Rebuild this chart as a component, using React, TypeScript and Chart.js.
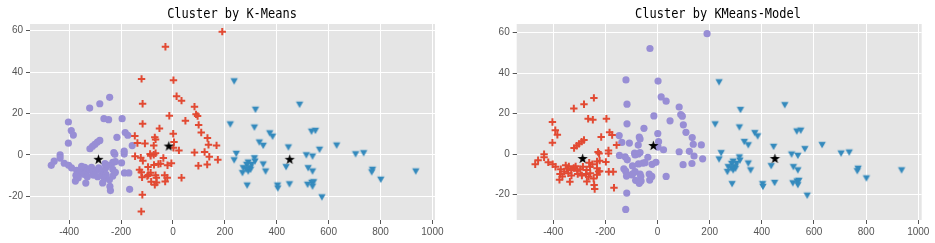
import React, { useEffect, useRef } from 'react';
import { Chart, registerables } from 'chart.js';
Chart.register(...registerables);

// ---- data (x, y) ----
const clusterA: [number, number][] = [
  [-244, 27.8], [-282, 24.7], [-321, 22.6], [-266, 17.5], [-248, 17.0], [-196, 17.5],
  [-403, 15.9], [-392, 11.8], [-384, 9.6], [-403, 5.7], [-216, 8.5], [-184, 10.8],
  [-174, 9.5], [-157, 4.5], [-320, 3.0], [-310, 4.2], [-301, 5.1], [-291, 6.2],
  [-282, 7.0], [-228, 1.1], [-224, 0.3], [-188, 1.8], [-188, 0.4], [-198, -3.8],
  [-435, 0.0], [-435, -1.5], [-458, -3.0], [-469, -5.0], [-419, -4.0], [-402, -5.0],
  [-391, -6.2], [-371, -7.4], [-358, -8.6], [-347, -7.2], [-340, -6.0], [-331, -7.8],
  [-321, -6.8], [-314, -6.0], [-308, -8.2], [-296, -7.4], [-286, -6.2], [-272, -7.8],
  [-259, -6.2], [-374, -9.8], [-342, -9.4], [-306, -9.8], [-274, -9.8], [-258, -9.4],
  [-365, -11.0], [-264, -11.2], [-232, -6.9], [-232, -3.6], [-262, -4.2], [-226, -8.6],
  [-232, -10.2], [-250, -5.0], [-222, -3.2], [-376, -12.6], [-336, -13.6], [-271, -13.5],
  [-243, -15.2], [-241, -17.2], [-167, -16.6], [-187, -8.7], [-170, -8.7], [-352, -5.5],
  [-330, -10.5], [-290, -10.5], [-245, -12.0], [-222, -8.4],
];

const clusterB: [number, number][] = [
  [190, 59.5], [-29, 52.2], [-121, 36.7], [2, 36.1], [14, 28.3], [33, 26.2],
  [-117, 24.7], [83, 23.3], [-14, 18.9], [89, 19.6], [95, 18.8], [48, 16.5],
  [-117, 15.0], [99, 14.5], [109, 10.8], [-52, 12.8], [-147, 9.2], [-70, 8.5],
  [-67, 7.5], [1, 10.2], [133, 8.2], [137, 4.9], [168, 4.6], [4, 6.2],
  [-108, 5.5], [-137, 5.8], [-74, 4.5], [2, 3.5], [23, 2.2], [83, 1.2],
  [122, 1.4], [140, -0.9], [173, -2.3], [98, -5.2], [132, -4.6], [33, -11.0],
  [-118, -19.2], [-122, -27.3], [-146, -0.6], [-124, -1.3], [-116, -2.8], [-129, -7.2],
  [-122, -8.4], [-119, -10.8], [-88, 0.5], [-74, 0.1], [-67, 0.8], [-86, -0.4],
  [-37, -1.5], [-21, -5.0], [-6, -4.0], [-56, -4.4], [-73, -4.8], [-96, -5.8],
  [-86, -8.6], [-99, -10.2], [-84, -12.9], [-67, -9.8], [-63, -13.3], [-70, -14.4],
  [-32, -9.8], [-30, -12.8], [-48, -4.2], [-95, -9.7], [-64, -11.0], [-22, -11.0],
];

const clusterC: [number, number][] = [
  [236, 35.5], [318, 21.8], [488, 24.2], [221, 14.7], [314, 13.2], [373, 10.4],
  [384, 8.8], [333, 6.0], [348, 4.4], [445, 3.6], [534, 11.2], [549, 11.6],
  [565, 2.5], [631, 4.5], [704, 0.3], [735, 0.8], [514, -0.2], [538, -0.8],
  [244, 0.5], [236, -2.6], [314, -1.6], [316, -3.2], [290, -3.7], [284, -4.8],
  [303, -4.8], [297, -6.4], [271, -6.4], [268, -8.8], [290, -8.0], [299, -7.2],
  [348, -4.6], [357, -8.0], [436, -5.9], [521, -6.4], [538, -8.0], [286, -14.8],
  [403, -14.8], [404, -16.2], [449, -14.2], [519, -14.4], [535, -13.5], [542, -13.2],
  [538, -15.3], [574, -20.5], [769, -7.2], [766, -8.4], [801, -12.0], [936, -8.0],
  [282, -7.0],
];

const centers: [number, number][] = [[-287, -2.1], [-16, 4.3], [450, -2.1]];

const xTicks = [-400, -200, 0, 200, 400, 600, 800, 1000];
const yTicks = [-20, 0, 20, 40, 60];

const titles = ['Cluster by K-Means', 'Cluster by KMeans-Model'];

// ---- styling / layout ----
const PURPLE = '#988ED5';
const RED = '#E24A33';
const BLUE = '#348ABD';
const TICK_FONT = "'Liberation Sans', Arial, sans-serif";

type PanelCfg = {
  title: string;
  left: number;
  width: number;
  plotLeft: number;
  plotRight: number;
  xMin: number; xMax: number; yMin: number; yMax: number;
  purple: [number, number][];
  red: [number, number][];
};

const panels: PanelCfg[] = [
  {
    title: titles[0], left: 0, width: 467, plotLeft: 30, plotRight: 435,
    xMin: -551, xMax: 1010, yMin: -31.4, yMax: 63.2,
    purple: clusterA, red: clusterB,
  },
  {
    title: titles[1], left: 467, width: 468, plotLeft: 516.7, plotRight: 921.7,
    xMin: -540, xMax: 1013, yMin: -32.5, yMax: 64.3,
    purple: clusterB, red: clusterA,
  },
];

function makeStar(): HTMLCanvasElement {
  const c = document.createElement('canvas');
  c.width = 13; c.height = 13;
  const ctx = c.getContext('2d')!;
  const cx = 6.5, cy = 6.8, R = 5.4, r = 2.1;
  ctx.beginPath();
  for (let i = 0; i < 10; i++) {
    const a = -Math.PI / 2 + (i * Math.PI) / 5;
    const rad = i % 2 === 0 ? R : r;
    const px = cx + Math.cos(a) * rad;
    const py = cy + Math.sin(a) * rad;
    if (i === 0) ctx.moveTo(px, py); else ctx.lineTo(px, py);
  }
  ctx.closePath();
  ctx.fillStyle = '#000';
  ctx.fill();
  return c;
}

function makeTriangle(): HTMLCanvasElement {
  const c = document.createElement('canvas');
  c.width = 10; c.height = 10;
  const ctx = c.getContext('2d')!;
  ctx.beginPath();
  ctx.moveTo(1.3, 1.7);
  ctx.lineTo(8.7, 1.7);
  ctx.lineTo(5, 8.3);
  ctx.closePath();
  ctx.fillStyle = BLUE;
  ctx.fill();
  return c;
}

const bgPlugin = {
  id: 'plotBg',
  beforeDraw(chart: any) {
    const { ctx, chartArea } = chart;
    if (!chartArea) return;
    ctx.save();
    ctx.fillStyle = '#E5E5E5';
    ctx.fillRect(chartArea.left, chartArea.top, chartArea.right - chartArea.left, chartArea.bottom - chartArea.top);
    ctx.restore();
  },
};

const toPts = (arr: [number, number][]) => arr.map(([x, y]) => ({ x, y }));

function Panel({ cfg }: { cfg: PanelCfg }) {
  const ref = useRef<HTMLCanvasElement>(null);
  useEffect(() => {
    const star = makeStar();
    const tri = makeTriangle();
    const rightPad = cfg.width - (cfg.plotRight - cfg.left);
    const yAxisW = cfg.plotLeft - cfg.left;
    const chart = new Chart(ref.current!, {
      type: 'scatter',
      data: {
        datasets: [
          {
            data: toPts(centers), pointStyle: star as any, pointRadius: 6, order: 0,
            backgroundColor: '#000', borderWidth: 0,
          },
          {
            data: toPts(clusterC), pointStyle: tri as any, pointRadius: 4, order: 1,
            backgroundColor: BLUE, borderWidth: 0,
          },
          {
            data: toPts(cfg.red), pointStyle: 'cross', pointRadius: 3.7, order: 2,
            borderColor: RED, borderWidth: 2, backgroundColor: RED,
          },
          {
            data: toPts(cfg.purple), pointStyle: 'circle', pointRadius: 3.6, order: 3,
            backgroundColor: PURPLE, borderWidth: 0,
          },
        ],
      },
      options: {
        animation: false,
        responsive: false,
        devicePixelRatio: 1,
        events: [],
        layout: { padding: { top: 24, right: rightPad, bottom: 0, left: 0 } },
        plugins: {
          legend: { display: false },
          tooltip: { enabled: false },
          title: { display: false },
        },
        scales: {
          x: {
            type: 'linear',
            min: cfg.xMin,
            max: cfg.xMax,
            afterFit: (s: any) => { s.height = 23; },
            afterBuildTicks: (s: any) => { s.ticks = xTicks.map((v) => ({ value: v })); },
            grid: { color: '#FFFFFF', lineWidth: 1, tickColor: '#555555', tickLength: 4, drawTicks: true },
            border: { display: false },
            ticks: {
              color: '#555555', font: { family: TICK_FONT, size: 10 }, padding: 2,
              maxRotation: 0, autoSkip: false, callback: (v: any) => String(v),
            },
          },
          y: {
            type: 'linear',
            min: cfg.yMin,
            max: cfg.yMax,
            afterFit: (s: any) => { s.width = yAxisW; },
            afterBuildTicks: (s: any) => { s.ticks = yTicks.map((v) => ({ value: v })); },
            grid: { color: '#FFFFFF', lineWidth: 1, tickColor: '#555555', tickLength: 4, drawTicks: true },
            border: { display: false },
            ticks: {
              color: '#555555', font: { family: TICK_FONT, size: 10 }, padding: 3,
              autoSkip: false, callback: (v: any) => String(v),
            },
          },
        },
      },
      plugins: [bgPlugin],
    } as any);
    return () => chart.destroy();
  }, [cfg]);

  const centerX = (cfg.plotLeft + cfg.plotRight) / 2 - 1;
  return (
    <>
      <canvas
        ref={ref}
        width={cfg.width}
        height={243}
        style={{ position: 'absolute', left: cfg.left, top: 0, width: cfg.width, height: 243 }}
      />
      <div
        style={{
          position: 'absolute', left: centerX - 150, top: 5.5, width: 300, textAlign: 'center',
          fontFamily: "'DejaVu Sans Mono', 'Liberation Mono', monospace", fontSize: 14, lineHeight: '14px',
          color: '#000', transform: 'scaleX(0.855)', whiteSpace: 'nowrap',
        }}
      >
        {cfg.title}
      </div>
    </>
  );
}

export default function App() {
  return (
    <div style={{ position: 'absolute', left: 0, top: 0, width: 935, height: 243, background: '#fff', overflow: 'hidden' }}>
      {panels.map((p, i) => (
        <Panel key={i} cfg={p} />
      ))}
    </div>
  );
}
